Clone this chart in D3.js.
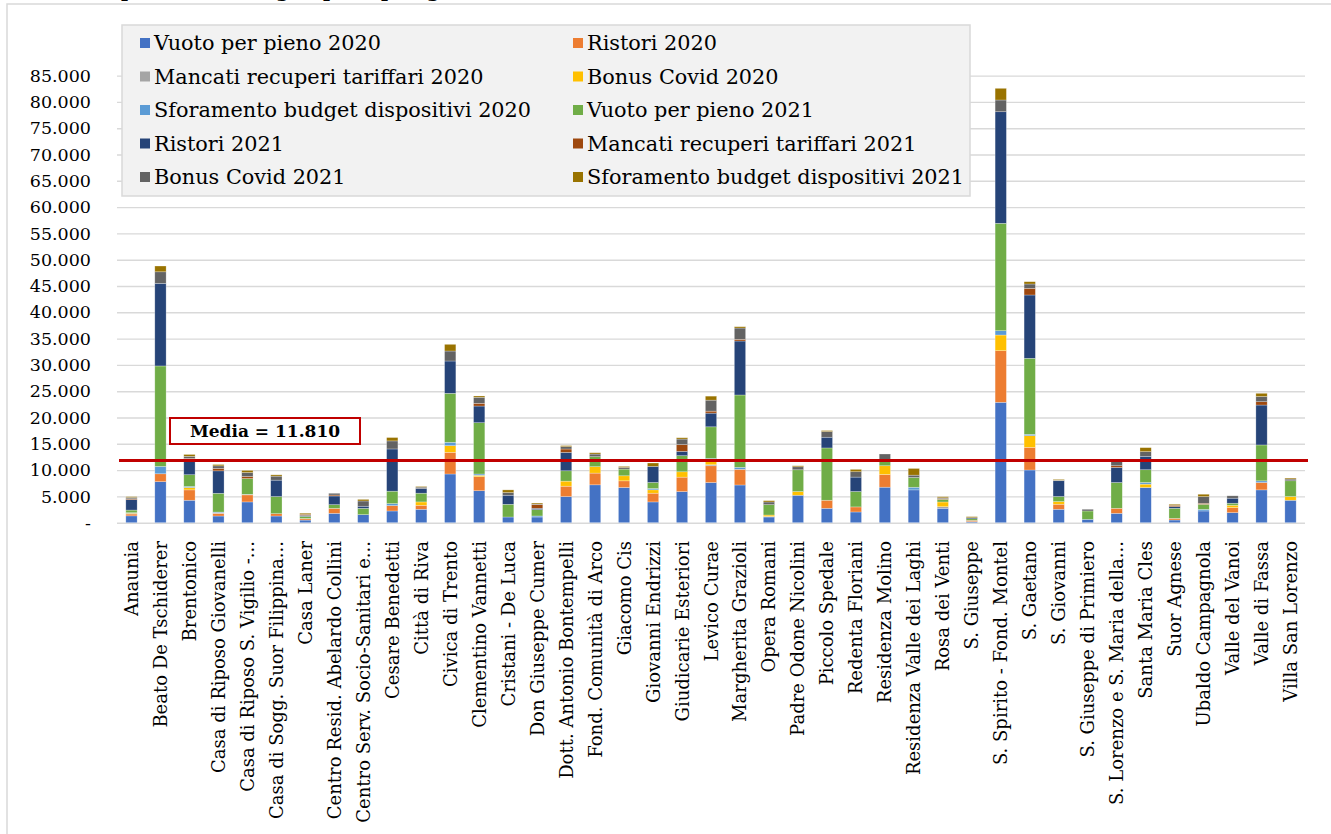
<!DOCTYPE html>
<html>
<head>
<meta charset="utf-8">
<script src="https://cdn.jsdelivr.net/npm/d3@7"></script>
<style>
  body { margin: 0; background: #fff; }
  text { font-family: "DejaVu Serif", "Liberation Serif", serif; fill: #000; }
</style>
</head>
<body>
<script>
// categorie (RSA)
var categorie = ["Anaunia", "Beato De Tschiderer", "Brentonico", "Casa di Riposo Giovanelli",
  "Casa di Riposo S. Vigilio -...", "Casa di Sogg. Suor Filippina...", "Casa Laner",
  "Centro Resid. Abelardo Collini", "Centro Serv. Socio-Sanitari e...", "Cesare Benedetti",
  "Città di Riva", "Civica di Trento", "Clementino Vannetti", "Cristani - De Luca",
  "Don Giuseppe Cumer", "Dott. Antonio Bontempelli", "Fond. Comunità di Arco", "Giacomo Cis",
  "Giovanni Endrizzi", "Giudicarie Esteriori", "Levico Curae", "Margherita Grazioli",
  "Opera Romani", "Padre Odone Nicolini", "Piccolo Spedale", "Redenta Floriani",
  "Residenza Molino", "Residenza Valle dei Laghi", "Rosa dei Venti", "S. Giuseppe",
  "S. Spirito - Fond. Montel", "S. Gaetano", "S. Giovanni", "S. Giuseppe di Primiero",
  "S. Lorenzo e S. Maria della...", "Santa Maria Cles", "Suor Agnese", "Ubaldo Campagnola",
  "Valle del Vanoi", "Valle di Fassa", "Villa San Lorenzo"];

// serie
var vuoto2020 = [1300,7800,4270,1270,3950,1270,500,1780,1530,2230,2550,9260,6080,1080,1080,4970,7200,6690,3950,5920,7640,7170,1080,5220,2740,2040,6750,6240,2740,200,22890,10020,2550,640,1780,6690,510,2230,1910,6240,4270];
var ristori2020 = [350,1500,1970,500,1340,450,250,950,0,1020,760,4120,2670,0,0,1970,2230,1270,1660,2740,3180,2980,0,0,1530,960,2420,0,0,250,9810,4310,960,0,960,0,320,0,960,1400,0];
var mancati2020 = [0,0,0,100,100,0,0,0,0,0,0,0,0,0,0,0,0,0,0,0,200,0,100,0,0,0,0,0,300,0,0,0,0,0,0,0,0,0,0,0,0];
var bonus2020 = [150,0,450,0,0,0,50,0,0,0,640,1260,260,0,0,960,1220,960,640,1020,760,0,280,700,0,0,1660,0,900,0,2980,2210,510,0,0,640,0,0,450,0,700];
var sforamento2020 = [100,1400,200,150,0,0,0,0,0,380,0,640,250,0,200,0,0,0,250,0,450,380,0,0,0,0,0,500,0,0,820,260,0,0,0,320,0,300,0,320,0];
var vuoto2021 = [500,19100,2230,3570,3000,3250,400,700,1200,2360,1660,9320,9750,2420,1210,1970,1900,1270,1150,3060,6000,13750,1970,4140,9940,2930,960,1850,500,300,20420,14450,960,1590,4900,2420,1910,960,380,6820,3000];
var ristori2021 = [2000,15700,3000,4270,0,3120,200,1650,400,8030,900,6140,3170,1720,250,3500,0,0,3060,830,2600,10260,0,0,2040,2740,0,0,0,200,21210,12040,3000,0,2870,2550,320,0,960,7590,0];
var mancati2021 = [150,0,100,450,400,0,200,190,0,0,0,0,520,0,700,640,0,0,0,1270,380,320,0,0,0,0,0,0,150,0,0,1270,0,0,320,0,250,200,0,630,0];
var bonus2021 = [250,2200,400,500,750,760,0,320,1000,1530,250,1900,1140,510,100,450,500,320,0,1060,2090,2150,510,570,1080,1020,1270,450,150,0,2230,820,100,320,1080,890,0,1270,450,1000,320];
var sforamento2021 = [150,1100,350,250,400,250,200,0,300,640,130,1270,250,510,200,200,250,190,640,250,760,250,250,190,190,450,0,1270,200,200,2220,440,150,0,0,760,190,450,0,600,190];

var nomiSerie = ["Vuoto per pieno 2020", "Ristori 2020", "Mancati recuperi tariffari 2020", "Bonus Covid 2020",
  "Sforamento budget dispositivi 2020", "Vuoto per pieno 2021", "Ristori 2021", "Mancati recuperi tariffari 2021",
  "Bonus Covid 2021", "Sforamento budget dispositivi 2021"];
var serie = [vuoto2020, ristori2020, mancati2020, bonus2020, sforamento2020,
  vuoto2021, ristori2021, mancati2021, bonus2021, sforamento2021];
var colori = ["#4472C4", "#ED7D31", "#A5A5A5", "#FFC000", "#5B9BD5",
  "#70AD47", "#264478", "#9E480E", "#636363", "#997300"];

var media = 11810;
var yTicks = d3.range(0, 85001, 5000);

// tabella per d3.stack
var righe = categorie.map(function (c, i) {
  var r = {cat: c};
  nomiSerie.forEach(function (n, j) { r[n] = serie[j][i]; });
  return r;
});

var W = 1331, H = 834;
var pLeft = 117, pRight = 1305, pTop = 75.6, pBottom = 522.7;

var svg = d3.select("body").append("svg")
  .attr("width", W).attr("height", H);

// cornice del grafico (a destra esce dalla pagina)
svg.append("rect")
  .attr("x", 7).attr("y", 4).attr("width", 1340).attr("height", 850)
  .attr("fill", "none").attr("stroke", "#d9d9d9").attr("stroke-width", 1.5);

// titolo (tagliato in alto, si vedono solo le code delle lettere)
var titolo = svg.append("text")
  .attr("y", -3.5)
  .style("font-weight", "bold").style("font-size", "19px")
  .text("Contributi 2020-2021 per RSA: dettaglio per tipologia");
var idx = titolo.text().indexOf("glio");
var px = titolo.node().getStartPositionOfChar(idx).x;
titolo.attr("x", 276 - px);

var fmt = d3.formatLocale({decimal: ",", thousands: ".", grouping: [3], currency: ["", ""]}).format(",.0f");

var x = d3.scaleBand().domain(categorie).range([pLeft, pRight])
  .paddingInner(0.61).paddingOuter(0.305);
var y = d3.scaleLinear().domain([0, 85000]).range([pBottom, pTop]);

// griglia
svg.append("g")
  .attr("transform", "translate(" + pLeft + ",0)")
  .call(d3.axisLeft(y).tickValues(yTicks).tickSize(-(pRight - pLeft)).tickFormat(""))
  .call(function (g) {
    g.select(".domain").remove();
    g.selectAll("line").attr("stroke", "#d9d9d9").attr("stroke-width", 1.4);
  });

// asse Y
svg.append("g")
  .attr("transform", "translate(" + pLeft + ",0)")
  .call(d3.axisLeft(y).tickValues(yTicks).tickSize(0).tickPadding(26)
    .tickFormat(function (d) { return d === 0 ? "-" : fmt(d); }))
  .call(function (g) {
    g.select(".domain").remove();
    g.selectAll("text").style("font-size", "17.5px").style("font-family", "DejaVu Serif").attr("fill", "#000");
  });

// barre impilate
var stack = d3.stack().keys(nomiSerie)(righe);
svg.append("g").selectAll("g")
  .data(stack)
  .enter().append("g")
  .attr("fill", function (d, i) { return colori[i]; })
  .selectAll("rect")
  .data(function (d) { return d; })
  .enter().append("rect")
  .attr("x", function (d) { return x(d.data.cat); })
  .attr("width", x.bandwidth())
  .attr("y", function (d) { return y(d[1]); })
  .attr("height", function (d) { return y(d[0]) - y(d[1]); })
  .attr("stroke", "#ffffff").attr("stroke-opacity", 0.45).attr("stroke-width", 0.6);

// etichette asse X
svg.append("g").selectAll("text")
  .data(categorie)
  .enter().append("text")
  .attr("transform", function (d) {
    return "translate(" + (x(d) + x.bandwidth() / 2) + ",541) rotate(-90)";
  })
  .attr("text-anchor", "end")
  .attr("dominant-baseline", "central")
  .style("font-size", "18px")
  .text(function (d) { return d; });

// linea della media
svg.append("line")
  .attr("x1", pLeft + 2).attr("x2", pRight + 3)
  .attr("y1", y(media)).attr("y2", y(media))
  .attr("stroke", "#C00000").attr("stroke-width", 3);

svg.append("rect")
  .attr("x", 170).attr("y", 418).attr("width", 190).attr("height", 26)
  .attr("fill", "#fff").attr("stroke", "#C00000").attr("stroke-width", 2);
svg.append("text")
  .attr("x", 265).attr("y", 431)
  .attr("text-anchor", "middle").attr("dominant-baseline", "central")
  .style("font-weight", "bold").style("font-size", "17px")
  .text("Media = " + fmt(media));

// legenda
svg.append("rect")
  .attr("x", 122).attr("y", 25).attr("width", 848).attr("height", 171)
  .attr("fill", "#f2f2f2").attr("stroke", "#d9d9d9").attr("stroke-width", 1.5);

var leg = svg.append("g").selectAll("g")
  .data(nomiSerie)
  .enter().append("g")
  .attr("transform", function (d, i) {
    var col = i % 2, row = Math.floor(i / 2);
    return "translate(" + (col === 0 ? 140 : 573) + "," + (43 + row * 33.5) + ")";
  });
leg.append("rect")
  .attr("x", 0).attr("y", -5).attr("width", 10).attr("height", 10)
  .attr("fill", function (d, i) { return colori[i]; });
leg.append("text")
  .attr("x", 14).attr("dominant-baseline", "central")
  .style("font-size", "20.8px")
  .text(function (d) { return d; });
</script>
</body>
</html>
